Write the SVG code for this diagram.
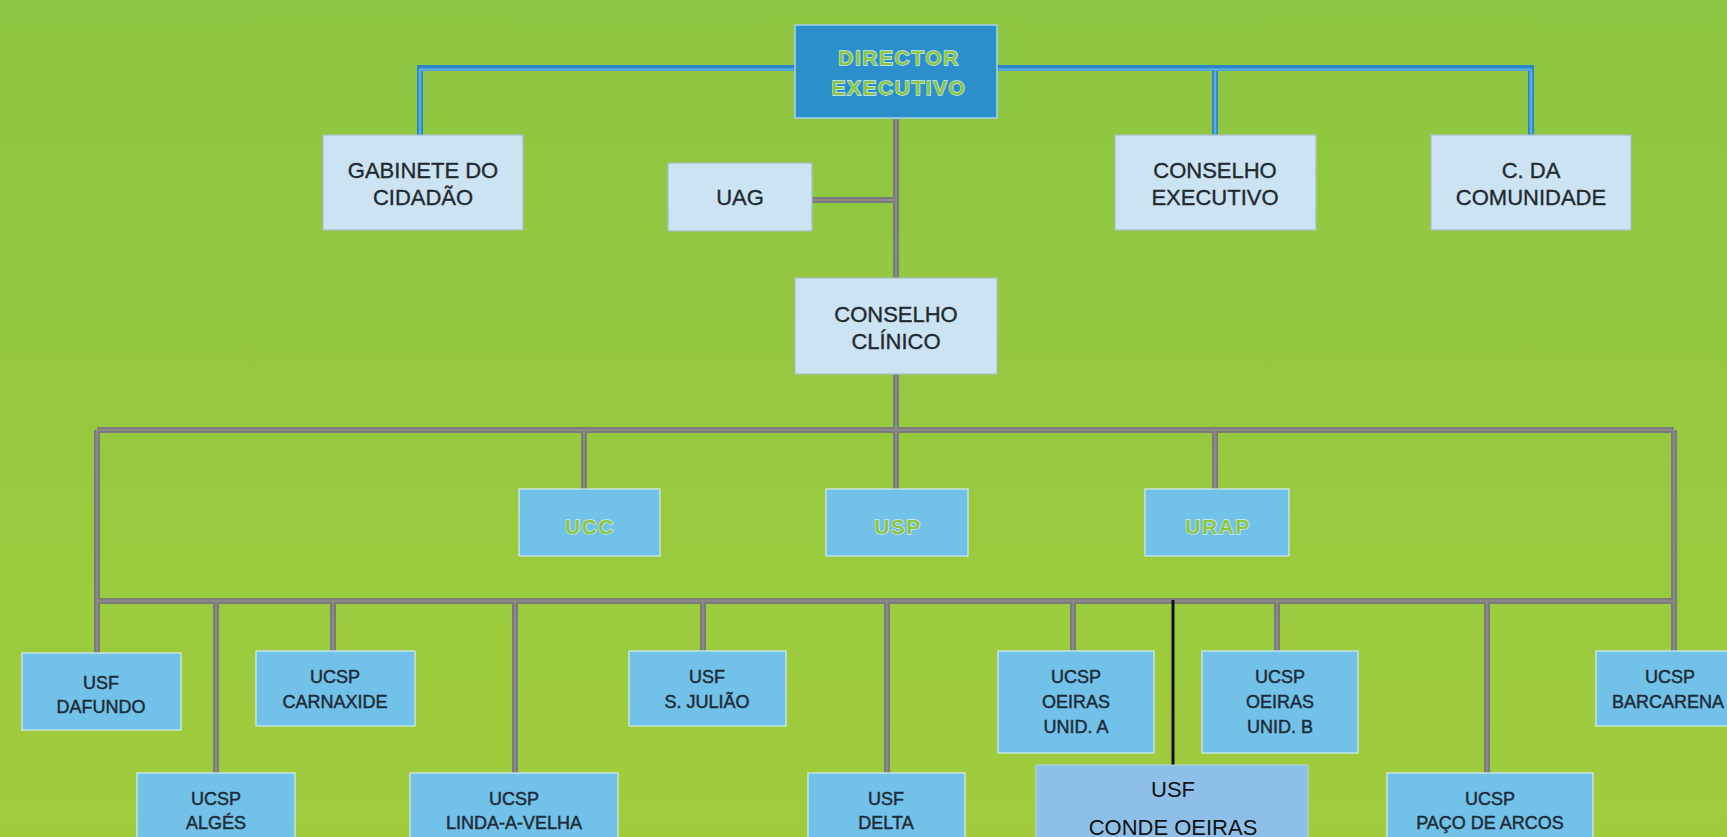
<svg xmlns="http://www.w3.org/2000/svg" width="1727" height="837" viewBox="0 0 1727 837">
<style>
.lt{fill:#cbe3f2;stroke:#a9bcc6;stroke-width:1.2}
.md{fill:#72c1e8;stroke:#d6ecf4;stroke-width:1.2}
.dk{fill:#2b8fcc;stroke:#a6d3ea;stroke-width:1.5}
.cd{fill:#8dbfe8;stroke:#b7d6ee;stroke-width:1}
.t1{font-family:"Liberation Sans",Arial,sans-serif;font-size:22px;fill:#222a30;stroke:#222a30;stroke-width:0.35;text-anchor:middle}
.t2{font-family:"Liberation Sans",Arial,sans-serif;font-size:18px;fill:#1d2b36;stroke:#1d2b36;stroke-width:0.45;text-anchor:middle}
.t3{font-family:"Liberation Sans",Arial,sans-serif;font-size:22px;fill:#111;text-anchor:middle}
.tg{font-family:"Liberation Sans",Arial,sans-serif;font-weight:bold;font-size:21px;letter-spacing:1.5px;fill:#8cc63f;stroke:#d2ebf2;stroke-width:1.3;paint-order:stroke;text-anchor:middle}
.gy{fill:none;stroke:#7b7b7b;stroke-width:6}
.gyl{fill:none;stroke:#8f8f8f;stroke-width:1.5}
.bl{fill:none;stroke:#2a86c9;stroke-width:6}
.bll{fill:none;stroke:#5cabdf;stroke-width:2.5}
</style>
<defs>
<linearGradient id="bg" x1="0" y1="0" x2="0" y2="1">
<stop offset="0" stop-color="#8dc642"/>
<stop offset="1" stop-color="#a0cc3c"/>
</linearGradient>
<path id="gpath" d="M896 119V278M812 200H896M896 374V430M97 430H1674M584 430V489M896 430V489M1215 430V489M97 430V653M1674 430V651M97 601H1674M216 601V773M333 601V651M515 601V773M703 601V651M887 601V773M1073 601V651M1277 601V651M1487 601V773"/>
<path id="bpath" d="M795 68H420V135M997 68H1531V135M1215 68V135"/>
</defs>
<rect width="1727" height="837" fill="url(#bg)"/>
<g id="connectors">
<use href="#bpath" class="bl"/>
<use href="#bpath" class="bll" transform="translate(0,1.5)"/>
<use href="#gpath" class="gy"/>
<use href="#gpath" class="gyl"/>
<path d="M1173 600V765" fill="none" stroke="#111" stroke-width="3"/>
</g>
<g id="director"><rect class="dk" x="795" y="25" width="202" height="93"/><text class="tg" x="899" y="65">DIRECTOR</text><text class="tg" x="899" y="95">EXECUTIVO</text></g>
<g id="gabinete"><rect class="lt" x="323" y="135" width="200" height="95"/><text class="t1" x="423" y="178">GABINETE DO</text><text class="t1" x="423" y="205">CIDADÃO</text></g>
<g id="uag"><rect class="lt" x="668" y="163" width="144" height="68"/><text class="t1" x="740" y="205">UAG</text></g>
<g id="conselho-executivo"><rect class="lt" x="1115" y="135" width="201" height="95"/><text class="t1" x="1215" y="178">CONSELHO</text><text class="t1" x="1215" y="205">EXECUTIVO</text></g>
<g id="comunidade"><rect class="lt" x="1431" y="135" width="200" height="95"/><text class="t1" x="1531" y="178">C. DA</text><text class="t1" x="1531" y="205">COMUNIDADE</text></g>
<g id="conselho-clinico"><rect class="lt" x="795" y="278" width="202" height="96"/><text class="t1" x="896" y="322">CONSELHO</text><text class="t1" x="896" y="349">CLÍNICO</text></g>
<g id="ucc"><rect class="md" x="519" y="489" width="141" height="67"/><text class="tg" x="590" y="534">UCC</text></g>
<g id="usp"><rect class="md" x="826" y="489" width="142" height="67"/><text class="tg" x="898" y="534">USP</text></g>
<g id="urap"><rect class="md" x="1145" y="489" width="144" height="67"/><text class="tg" x="1218" y="534">URAP</text></g>
<g id="dafundo"><rect class="md" x="22" y="653" width="159" height="77"/><text class="t2" x="101" y="689">USF</text><text class="t2" x="101" y="713">DAFUNDO</text></g>
<g id="carnaxide"><rect class="md" x="256" y="651" width="159" height="75"/><text class="t2" x="335" y="683">UCSP</text><text class="t2" x="335" y="708">CARNAXIDE</text></g>
<g id="sjuliao"><rect class="md" x="629" y="651" width="157" height="75"/><text class="t2" x="707" y="683">USF</text><text class="t2" x="707" y="708">S. JULIÃO</text></g>
<g id="oeiras-a"><rect class="md" x="998" y="651" width="156" height="102"/><text class="t2" x="1076" y="683">UCSP</text><text class="t2" x="1076" y="708">OEIRAS</text><text class="t2" x="1076" y="733">UNID. A</text></g>
<g id="oeiras-b"><rect class="md" x="1202" y="651" width="156" height="102"/><text class="t2" x="1280" y="683">UCSP</text><text class="t2" x="1280" y="708">OEIRAS</text><text class="t2" x="1280" y="733">UNID. B</text></g>
<g id="barcarena"><rect class="md" x="1596" y="651" width="160" height="75"/><text class="t2" x="1670" y="683">UCSP</text><text class="t2" x="1668" y="708">BARCARENA</text></g>
<g id="alges"><rect class="md" x="137" y="773" width="158" height="80"/><text class="t2" x="216" y="805">UCSP</text><text class="t2" x="216" y="829">ALGÉS</text></g>
<g id="linda"><rect class="md" x="410" y="773" width="208" height="80"/><text class="t2" x="514" y="805">UCSP</text><text class="t2" x="514" y="829">LINDA-A-VELHA</text></g>
<g id="delta"><rect class="md" x="808" y="773" width="157" height="80"/><text class="t2" x="886" y="805">USF</text><text class="t2" x="886" y="829">DELTA</text></g>
<g id="conde-oeiras"><rect class="cd" x="1036" y="765" width="272" height="90"/><text class="t3" x="1173" y="797">USF</text><text class="t3" x="1173" y="835">CONDE OEIRAS</text></g>
<g id="paco"><rect class="md" x="1387" y="773" width="206" height="80"/><text class="t2" x="1490" y="805">UCSP</text><text class="t2" x="1490" y="829">PAÇO DE ARCOS</text></g>
</svg>
